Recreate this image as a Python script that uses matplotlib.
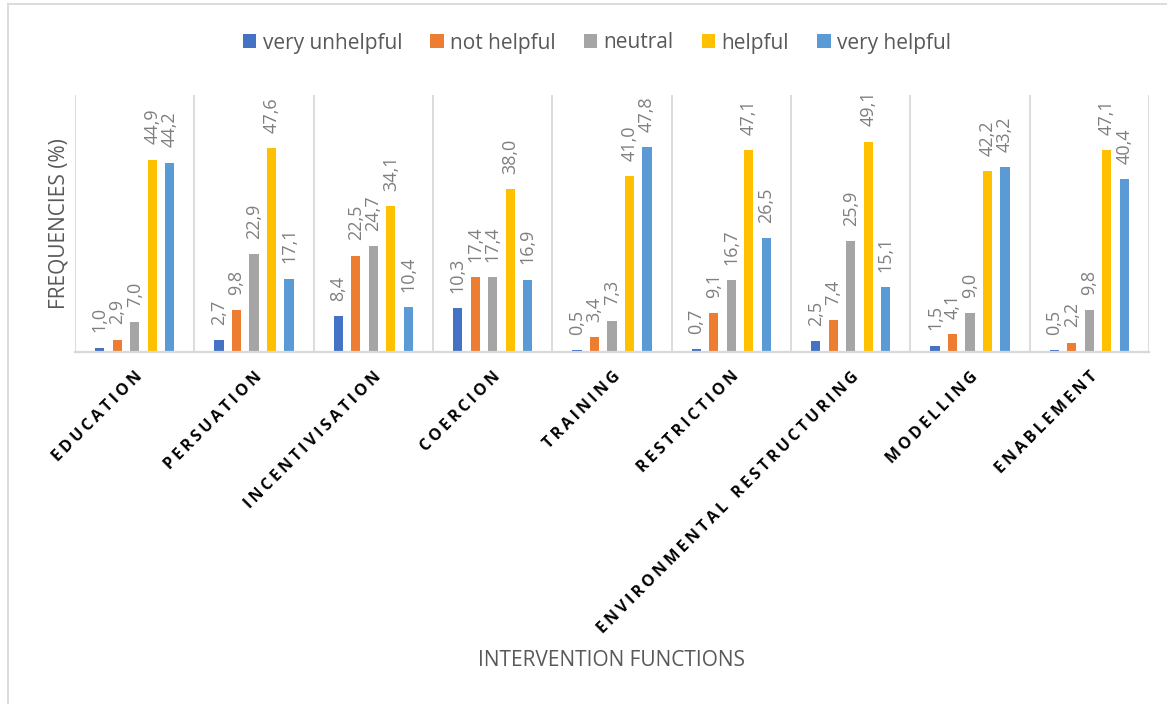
import matplotlib
matplotlib.use("Agg")
import matplotlib.pyplot as plt
from matplotlib.patches import Patch
from matplotlib.lines import Line2D
import numpy as np

plt.rcParams['font.family'] = ['Open Sans', 'DejaVu Sans']

categories = ["EDUCATION", "PERSUATION", "INCENTIVISATION", "COERCION", "TRAINING",
              "RESTRICTION", "ENVIRONMENTAL RESTRUCTURING", "MODELLING", "ENABLEMENT"]
series = ["very unhelpful", "not helpful", "neutral", "helpful", "very helpful"]
very_unhelpful = [1.0, 2.7, 8.4, 10.3, 0.5, 0.7, 2.5, 1.5, 0.5]
not_helpful = [2.9, 9.8, 22.5, 17.4, 3.4, 9.1, 7.4, 4.1, 2.2]
neutral = [7.0, 22.9, 24.7, 17.4, 7.3, 16.7, 25.9, 9.0, 9.8]
helpful = [44.9, 47.6, 34.1, 38.0, 41.0, 47.1, 49.1, 42.2, 47.1]
very_helpful = [44.2, 17.1, 10.4, 16.9, 47.8, 26.5, 15.1, 43.2, 40.4]
values = [very_unhelpful, not_helpful, neutral, helpful, very_helpful]
colors = ["#4472C4", "#ED7D31", "#A5A5A5", "#FFC000", "#5B9BD5"]

fig = plt.figure(figsize=(11.67, 7.04), dpi=100)
ax = fig.add_axes([75 / 1167, 0.5, 1074 / 1167, 257 / 704])

x = np.arange(len(categories))
step = 0.1467
width = 0.077
for i, (name, vals, col) in enumerate(zip(series, values, colors)):
    xs = x + (i - 2) * step
    ax.bar(xs, vals, width, color=col, label=name, zorder=3)
    for xi, v in zip(xs, vals):
        ax.annotate(("%.1f" % v).replace(".", ","), (xi, v), xytext=(0, 11),
                    textcoords="offset points", rotation=90, ha="center", va="bottom",
                    fontsize=13, color="#7F7F7F")

ax.set_xlim(-0.5, len(categories) - 0.5)
ax.set_ylim(0, 60)
for b in np.arange(len(categories) + 1) - 0.5:
    ax.axvline(b, color="#D9D9D9", lw=1.3, zorder=1)
for s in ax.spines.values():
    s.set_visible(False)
ax.axhline(0, color="#D9D9D9", lw=1.6, zorder=4, clip_on=False)
ax.set_yticks([])
ax.set_xticks(x)
spaced = ["\u2009".join(c).replace("\u2009 \u2009", "   ") for c in categories]
ax.set_xticklabels(spaced, rotation=45, ha="right", rotation_mode="anchor",
                   fontsize=11.5, fontweight="bold", color="black")
ax.tick_params(axis="x", length=0, pad=12)

fig.text(59 / 1167, 1 - 224 / 704, "FREQUENCIES (%)", rotation=90, ha="center",
         va="center", fontsize=15, color="#595959")
fig.text(612 / 1167, 1 - 660 / 704, "INTERVENTION FUNCTIONS", ha="center",
         va="center", fontsize=15, color="#595959")

handles = [Patch(facecolor=c, label=s) for c, s in zip(colors, series)]
fig.legend(handles=handles, loc="center", bbox_to_anchor=(597 / 1167, 1 - 43 / 704),
           ncol=5, frameon=False, fontsize=15, handlelength=0.65, handleheight=0.65,
           handletextpad=0.3, columnspacing=1.35, labelcolor="#595959")

# chart area border (top and left visible)
fig.add_artist(Line2D([8 / 1167, 1], [1 - 4 / 704, 1 - 4 / 704], color="#D9D9D9", lw=1.3))
fig.add_artist(Line2D([8 / 1167, 8 / 1167], [0, 1 - 4 / 704], color="#D9D9D9", lw=1.3))

fig.savefig("out.png", dpi=100, facecolor="white")
